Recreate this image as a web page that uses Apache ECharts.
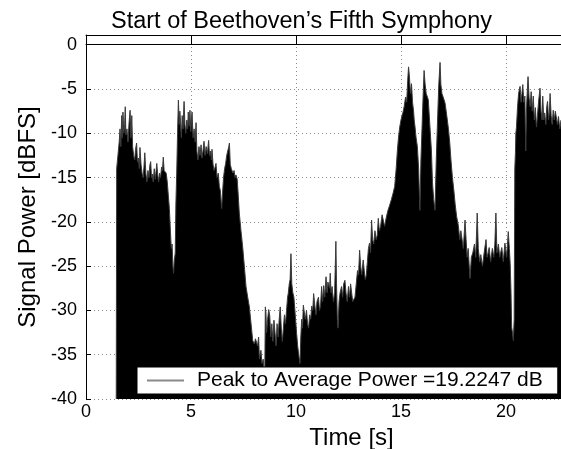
<!DOCTYPE html>
<html>
<head>
<meta charset="utf-8">
<script src="https://cdn.jsdelivr.net/npm/echarts@6/dist/echarts.min.js"></script>
<style>
  html, body { margin: 0; padding: 0; background: #fff; }
  #chart { width: 561px; height: 449px; }
</style>
</head>
<body>
<div id="chart"></div>
<script>
// signal power envelope, [time s, dBFS]
var opening = [
  [1.44, -40], [1.46, -14], [1.52, -12.5], [1.58, -11], [1.62, -9.5], [1.66, -11.5], [1.7, -8], [1.73, -10.5],
  [1.76, -7.6], [1.8, -10], [1.84, -9], [1.87, -7.0], [1.9, -10.2], [1.95, -9.5], [2.0, -11], [2.05, -8.8],
  [2.1, -7.4], [2.14, -10.5], [2.18, -8.0], [2.22, -11.5], [2.27, -12.5], [2.32, -13], [2.36, -11.8], [2.41, -11.1],
  [2.45, -13.2], [2.5, -12.8], [2.54, -14], [2.57, -11.6], [2.62, -13.5], [2.67, -14.5], [2.72, -15], [2.76, -13.8],
  [2.8, -12.2], [2.85, -14.5], [2.9, -15.5], [2.95, -14.2], [3.0, -15], [3.04, -13.6], [3.08, -13.2], [3.12, -15],
  [3.16, -14.6], [3.2, -15.5], [3.25, -14.0], [3.3, -15.2], [3.37, -13.4], [3.42, -14.8], [3.46, -15.5], [3.5, -14.5],
  [3.55, -15.0], [3.6, -13.8], [3.64, -14.2], [3.68, -12.7], [3.72, -14.2], [3.78, -14.0], [3.82, -14.5], [3.87, -15.5],
  [3.92, -17], [3.97, -18.5], [4.02, -21], [4.06, -23], [4.1, -22.5], [4.14, -25], [4.17, -25.8], [4.2, -24.5],
  [4.25, -23.5], [4.28, -18], [4.32, -14.5], [4.36, -10]
];
var secondMotif = [
  [4.4, -6.25], [4.44, -9], [4.47, -7.5], [4.5, -8.7], [4.54, -10.5], [4.58, -8], [4.62, -9.5], [4.67, -6.4],
  [4.71, -9], [4.75, -10], [4.8, -8.5], [4.84, -9.5], [4.87, -7.6], [4.91, -9.2], [4.95, -7.4], [4.99, -9.8],
  [5.02, -8.5], [5.05, -7.6], [5.1, -10.5], [5.15, -9.5], [5.2, -11], [5.24, -8.8], [5.28, -12], [5.33, -13],
  [5.38, -11.5], [5.43, -12.5], [5.48, -11.3], [5.52, -12.8], [5.57, -12], [5.62, -10.9], [5.67, -12.5], [5.72, -11.5],
  [5.78, -12.3], [5.84, -10.8], [5.88, -12.5], [5.93, -12], [5.97, -13], [6.0, -11.8], [6.05, -13.5], [6.1, -14.2],
  [6.15, -13.8], [6.19, -13.4], [6.24, -15], [6.3, -14.5], [6.35, -16], [6.4, -16.5], [6.46, -18.5], [6.5, -16.8],
  [6.55, -15], [6.6, -14], [6.65, -13.4], [6.7, -12.5], [6.75, -12], [6.8, -11.5], [6.83, -11.1], [6.87, -13.5],
  [6.92, -14], [6.97, -13.8], [7.0, -14.5], [7.05, -14.2], [7.1, -15], [7.14, -14.7], [7.2, -15.2], [7.25, -17],
  [7.3, -19], [7.38, -21], [7.46, -22.8], [7.54, -25], [7.62, -27.3], [7.7, -28.5], [7.78, -29.6], [7.86, -31.5],
  [7.94, -33.4], [8.02, -33.8], [8.07, -33.2], [8.12, -33.2], [8.17, -34], [8.22, -33], [8.26, -35.5], [8.29, -35.6],
  [8.33, -34.5], [8.38, -36], [8.44, -35.5], [8.48, -37], [8.51, -38.5]
];
var quietPassage = [
  [8.54, -29.6], [8.57, -30.3], [8.6, -32.5], [8.65, -31], [8.7, -29.9], [8.75, -30.6], [8.8, -33], [8.85, -31.5],
  [8.9, -33.5], [8.95, -31.1], [9.0, -32.5], [9.05, -34], [9.1, -31.5], [9.15, -33], [9.2, -31], [9.25, -29.6],
  [9.3, -32], [9.35, -33.5], [9.4, -32], [9.45, -30.5], [9.5, -31.5], [9.55, -30], [9.6, -28.5], [9.63, -28.1],
  [9.68, -27], [9.72, -26.5], [9.76, -23.6], [9.8, -27], [9.85, -28], [9.9, -28.5], [9.94, -28.6], [9.98, -31],
  [10.03, -32.6], [10.08, -34], [10.13, -35], [10.19, -36], [10.23, -33], [10.27, -31], [10.31, -32], [10.35, -29.4],
  [10.39, -29.2], [10.44, -31], [10.5, -30], [10.55, -31.5], [10.6, -32], [10.65, -30.5], [10.7, -31], [10.75, -29.5],
  [10.8, -30], [10.84, -28.1], [10.9, -29.5], [10.95, -30.5], [11.0, -29], [11.07, -28.5], [11.12, -30], [11.17, -29.5],
  [11.22, -27.3], [11.27, -29], [11.32, -27.2], [11.37, -28.5], [11.43, -26.2], [11.48, -28], [11.52, -26.8], [11.56, -27],
  [11.6, -27.5], [11.63, -25.8], [11.67, -28], [11.72, -27.3], [11.78, -29], [11.84, -28], [11.9, -22.2], [11.93, -27],
  [11.97, -31], [12.0, -32], [12.05, -29], [12.1, -28], [12.17, -27.3], [12.22, -28.5], [12.27, -27], [12.33, -26.6],
  [12.38, -28], [12.44, -29], [12.5, -27.3], [12.55, -28.5], [12.6, -27], [12.64, -27.2], [12.7, -29], [12.76, -28.8],
  [12.81, -28.5], [12.87, -27], [12.93, -25.5], [12.98, -26], [13.03, -23.2], [13.08, -25], [13.13, -26], [13.2, -24.3],
  [13.25, -25.5], [13.3, -26.5], [13.35, -26], [13.4, -24.5], [13.45, -23], [13.5, -22.4], [13.55, -23.5], [13.6, -19.8],
  [13.65, -22], [13.7, -22.5], [13.76, -21], [13.82, -22], [13.87, -21.5], [13.92, -19.6], [13.97, -21], [14.03, -20.5],
  [14.1, -19.2], [14.16, -19], [14.22, -20.5], [14.3, -19.5], [14.38, -18.7], [14.45, -18.2], [14.54, -17.5], [14.62, -16.8]
];
var climax = [
  [14.7, -16], [14.77, -14], [14.83, -11.9], [14.88, -10.5], [14.94, -9.3], [15.0, -8.5], [15.05, -8.0], [15.1, -7.6],
  [15.15, -7.0], [15.22, -5.9], [15.27, -6.5], [15.32, -4.0], [15.36, -2.5], [15.4, -3.5], [15.45, -5.5], [15.5, -4.4],
  [15.55, -6.5], [15.6, -7.5], [15.63, -8.5], [15.67, -9.3], [15.72, -10.5], [15.78, -11.5], [15.84, -14], [15.9, -18.7],
  [15.95, -13], [16.0, -9.5], [16.05, -6], [16.1, -2.9], [16.15, -4.5], [16.2, -5.5], [16.3, -6.2], [16.38, -9.3],
  [16.45, -12], [16.5, -15.6], [16.56, -17.5], [16.62, -18.7], [16.68, -13], [16.75, -7.9], [16.8, -4.5], [16.86, -2.0],
  [16.9, -4.5], [16.95, -5.5], [17.0, -5.5], [17.05, -6.2], [17.1, -6.6], [17.18, -8], [17.26, -9.5], [17.32, -11],
  [17.38, -13], [17.45, -15], [17.52, -16.5], [17.58, -18], [17.65, -19.4], [17.73, -20.4], [17.8, -22], [17.85, -21],
  [17.9, -21.2], [17.97, -23], [18.05, -19.8], [18.1, -22], [18.15, -24], [18.2, -23], [18.25, -25], [18.29, -26.4],
  [18.35, -24], [18.42, -23.5], [18.5, -22.5], [18.56, -24], [18.63, -19], [18.68, -23], [18.75, -24.5], [18.8, -23.7],
  [18.88, -25], [18.96, -23.5], [19.05, -22], [19.1, -24], [19.15, -23.5], [19.2, -22.9], [19.27, -24.5], [19.35, -23],
  [19.42, -24], [19.47, -22.5], [19.52, -19], [19.57, -23.5], [19.64, -22.5], [19.7, -24], [19.8, -22.9], [19.87, -24.5],
  [19.95, -22.4], [20.03, -24], [20.11, -21.1], [20.16, -23], [20.2, -24.7], [20.24, -28], [20.27, -31.9], [20.31, -32.5],
  [20.35, -33.4], [20.39, -31]
];
var finale = [
  [20.42, -14], [20.45, -12.2], [20.47, -10], [20.5, -9.3], [20.55, -7], [20.6, -5.5], [20.67, -4.7], [20.72, -6.5],
  [20.76, -5.5], [20.8, -4.5], [20.85, -6.5], [20.9, -5.8], [20.94, -12], [20.98, -7], [21.02, -5], [21.05, -3.6],
  [21.1, -6], [21.15, -7], [21.2, -5.3], [21.25, -7.5], [21.3, -5.8], [21.35, -8.5], [21.4, -7.1], [21.45, -9.3],
  [21.5, -8], [21.55, -6.5], [21.62, -4.9], [21.67, -7.5], [21.72, -8.5], [21.75, -5.8], [21.8, -8.5], [21.84, -7.7],
  [21.9, -9], [21.94, -7], [21.98, -6.4], [22.03, -8.5], [22.07, -7.5], [22.1, -5.5], [22.15, -8], [22.2, -9],
  [22.25, -7.4], [22.3, -8.5], [22.35, -7.5], [22.4, -7.4], [22.45, -9], [22.5, -8.1], [22.56, -9.5], [22.62, -8.5]
];
var yTicks = [-40, -35, -30, -25, -20, -15, -10, -5, 0];
var xTicks = [0, 5, 10, 15, 20];
var legendName = 'Peak to Average Power =19.2247 dB';

var chart = echarts.init(document.getElementById('chart'));
var font = '"Liberation Sans", Arial, Helvetica, sans-serif';
var signal = opening.concat(secondMotif, quietPassage, climax, finale);

var option = {
  animation: false,
  backgroundColor: '#fff',
  textStyle: { fontFamily: font },
  title: {
    text: "Start of Beethoven\u2019s Fifth Symphony",
    left: 106,
    top: 5,
    textStyle: { fontFamily: font, fontSize: 23.5, fontWeight: 'normal', color: '#000' }
  },
  grid: { left: 86, top: 35, right: 0, bottom: 50, outerBoundsMode: 'none', containLabel: false },
  legend: {
    data: [legendName],
    left: 137,
    top: 367,
    padding: [3, 15, 3, 10],
    backgroundColor: '#fff',
    borderColor: '#000',
    borderWidth: 1,
    borderRadius: 0,
    icon: 'rect',
    itemWidth: 37,
    itemHeight: 2,
    itemStyle: { color: '#8a8a8a' },
    textStyle: { fontFamily: font, fontSize: 21, color: '#000', padding: [0, 0, 0, 8] }
  },
  xAxis: [{
    type: 'value',
    min: 0,
    max: 22.62,
    interval: 5,
    name: 'Time [s]',
    nameLocation: 'middle',
    nameGap: 26,
    nameTextStyle: { fontFamily: font, fontSize: 24, color: '#000', padding: [0, 0, 0, 56] },
    axisLine: { show: true, lineStyle: { color: '#000', width: 1 } },
    axisTick: { show: true, inside: true, length: 5, lineStyle: { color: '#000' } },
    axisLabel: {
      showMaxLabel: false,
      margin: 4,
      fontSize: 18,
      color: '#000',
      fontFamily: font,
      formatter: function (v) { return xTicks.indexOf(v) >= 0 ? String(v) : ''; }
    },
    splitLine: { show: true, lineStyle: { color: '#8c8c8c', type: [1, 3], width: 1 } }
  }, {
    type: 'value',
    position: 'top',
    min: 0,
    max: 22.62,
    interval: 5,
    axisLine: { show: true, lineStyle: { color: '#000', width: 1 } },
    axisTick: { show: true, inside: true, length: 5, lineStyle: { color: '#000' } },
    axisLabel: { show: false },
    splitLine: { show: false }
  }],
  yAxis: {
    type: 'value',
    min: -40,
    max: 1.1,
    interval: 5,
    name: 'Signal Power [dBFS]',
    nameLocation: 'middle',
    nameGap: 40,
    nameTextStyle: { fontFamily: font, fontSize: 24, color: '#000' },
    axisLine: { show: true, lineStyle: { color: '#000', width: 1 } },
    axisTick: { show: true, inside: true, length: 5, lineStyle: { color: '#000' } },
    axisLabel: {
      showMaxLabel: false,
      margin: 9,
      fontSize: 18,
      color: '#000',
      fontFamily: font,
      formatter: function (v) { return yTicks.indexOf(v) >= 0 ? String(v) : ''; }
    },
    splitLine: { show: true, lineStyle: { color: '#8c8c8c', type: [1, 3], width: 1 } }
  },
  series: [{
    name: legendName,
    type: 'line',
    data: signal,
    showSymbol: false,
    symbol: 'none',
    sampling: null,
    lineStyle: { color: '#3a3a3a', width: 1 },
    itemStyle: { color: '#8a8a8a' },
    areaStyle: { color: '#000', opacity: 1, origin: 'start' },
    z: 2
  }]
};

chart.setOption(option);
</script>
</body>
</html>
